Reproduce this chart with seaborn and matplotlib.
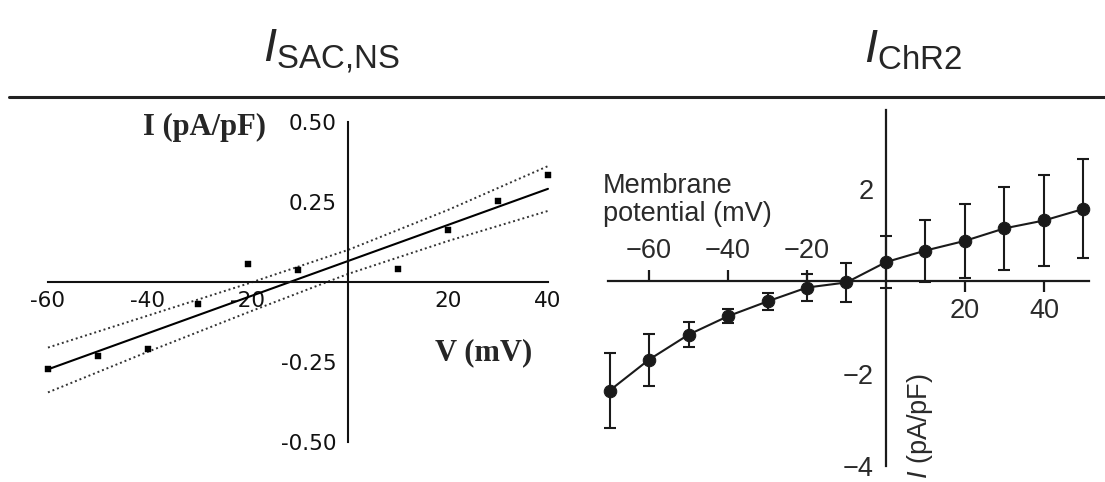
import numpy as np
import pandas as pd
import seaborn as sns
import matplotlib.pyplot as plt
from matplotlib.lines import Line2D

# --- data: left panel (I_SAC,NS) ---
sac_v = [-60, -50, -40, -30, -20, -10, 10, 20, 30, 40]
sac_i = [-0.272, -0.232, -0.208, -0.070, 0.057, 0.036, 0.042, 0.161, 0.252, 0.335]
fit_v = [-60, 40]
fit_i = [-0.273, 0.291]
band_v = [-60, -40, -20, 0, 20, 40]
band_hi = [-0.205, -0.105, -0.005, 0.100, 0.225, 0.362]
band_lo = [-0.345, -0.218, -0.095, 0.025, 0.128, 0.222]
sac_xticks = [-60, -40, -20, 20, 40]
sac_xlabels = ['-60', '-40', '-20', '20', '40']
sac_yticks = [0.50, 0.25, -0.25, -0.50]
sac_ylabels = ['0.50', '0.25', '-0.25', '-0.50']

# --- data: right panel (I_ChR2) ---
chr_v = [-70, -60, -50, -40, -30, -20, -10, 0, 10, 20, 30, 40, 50]
chr_i = [-2.37, -1.70, -1.16, -0.76, -0.44, -0.14, -0.03, 0.41, 0.66, 0.87, 1.14, 1.31, 1.56]
chr_err = [0.81, 0.56, 0.27, 0.15, 0.18, 0.30, 0.43, 0.56, 0.67, 0.80, 0.90, 0.98, 1.07]
chr_xticks = [-60, -40, -20, 20, 40]
chr_xlabels = ['\u221260', '\u221240', '\u221220', '20', '40']
chr_yticks = [2, -2, -4]
chr_ylabels = ['2', '\u22122', '\u22124']

sns.set_style('white')
plt.rcParams['font.family'] = ['Liberation Sans', 'DejaVu Sans']
plt.rcParams['mathtext.fontset'] = 'custom'
plt.rcParams['mathtext.rm'] = 'Liberation Sans'
plt.rcParams['mathtext.it'] = 'Liberation Sans:italic'
plt.rcParams['mathtext.bf'] = 'Liberation Sans:bold'

fig = plt.figure(figsize=(11.05, 4.82), dpi=100)

# titles + rule
fig.text(0.300, 0.871, r'$\mathit{I}_{\mathrm{SAC{,}NS}}$', fontsize=34, ha='center', va='baseline')
fig.text(0.826, 0.871, r'$\mathit{I}_{\mathrm{ChR2}}$', fontsize=34, ha='center', va='baseline')
fig.add_artist(Line2D([0.008, 1.0], [0.799, 0.799], color='#222222', lw=2.2))

# ---------------- left panel ----------------
ax1 = fig.add_axes([0.0434, 0.083, 0.4525, 0.664])
df_sac = pd.DataFrame({'V': sac_v, 'I': sac_i})
df_fit = pd.DataFrame({'V': fit_v, 'I': fit_i})
df_band = pd.DataFrame({'V': band_v, 'hi': band_hi, 'lo': band_lo})

sns.lineplot(data=df_band, x='V', y='hi', ax=ax1, color='#333333', lw=1.4,
             linestyle=(0, (1, 1.5)), estimator=None, clip_on=False)
sns.lineplot(data=df_band, x='V', y='lo', ax=ax1, color='#333333', lw=1.4,
             linestyle=(0, (1, 1.5)), estimator=None, clip_on=False)
sns.lineplot(data=df_fit, x='V', y='I', ax=ax1, color='black', lw=1.5,
             estimator=None, clip_on=False)
sns.scatterplot(data=df_sac, x='V', y='I', ax=ax1, marker='s', s=14,
                color='black', edgecolor='black', clip_on=False, zorder=4)

ax1.set_xlim(-60, 40)
ax1.set_ylim(-0.5, 0.5)
for side in ['top', 'right']:
    ax1.spines[side].set_visible(False)
ax1.spines['left'].set_position(('data', 0))
ax1.spines['bottom'].set_position(('data', 0))
for side in ['left', 'bottom']:
    ax1.spines[side].set_linewidth(1.5)
    ax1.spines[side].set_color('#111111')
ax1.set_xticks(sac_xticks, sac_xlabels)
ax1.set_yticks(sac_yticks, sac_ylabels)
ax1.tick_params(axis='both', direction='out', length=3, width=1.2, labelsize=15.5, color='#111111')
ax1.tick_params(axis='y', pad=5)
for lab in ax1.get_xticklabels() + ax1.get_yticklabels():
    lab.set_family('DejaVu Sans')
    lab.set_color('#111111')
ax1.set_xlabel('')
ax1.set_ylabel('')
fig.text(266 / 1105, 1 - 127 / 482, 'I (pA/pF)', family='Liberation Serif', weight='bold',
         fontsize=22, ha='right', va='center')
fig.text(532 / 1105, 1 - 353 / 482, 'V (mV)', family='Liberation Serif', weight='bold',
         fontsize=22, ha='right', va='center')

# ---------------- right panel ----------------
ax2 = fig.add_axes([0.5498, 0.0332, 0.4361, 0.7386])
df_chr = pd.DataFrame({'V': chr_v, 'I': chr_i, 'err': chr_err})
ax2.errorbar(df_chr['V'], df_chr['I'], yerr=df_chr['err'], fmt='none', ecolor='#1a1a1a',
             elinewidth=1.5, capsize=4.5, capthick=1.5, clip_on=False, zorder=3)
sns.lineplot(data=df_chr, x='V', y='I', ax=ax2, color='#1a1a1a', lw=1.5, marker='o',
             markersize=9, markeredgecolor='#1a1a1a', estimator=None, clip_on=False, zorder=4)

ax2.set_xlim(-70.5, 51.5)
ax2.set_ylim(-4, 3.70)
ax2.spines['right'].set_visible(False)
ax2.spines['top'].set_visible(False)
ax2.spines['left'].set_position(('data', 0))
ax2.spines['bottom'].set_position(('data', 0))
ax2.spines['top'].set_position(('data', 0))
for side in ['left', 'bottom']:
    ax2.spines[side].set_linewidth(1.6)
    ax2.spines[side].set_color('#1a1a1a')
ax2.set_xticks(chr_xticks, chr_xlabels)
ax2.set_yticks(chr_yticks, chr_ylabels)
ax2.tick_params(axis='x', direction='out', length=8, width=1.6, labelsize=19.5,
                top=True, labeltop=True, bottom=True, labelbottom=True, pad=4, color='#1a1a1a')
ax2.tick_params(axis='y', direction='out', length=7, width=1.6, labelsize=19.5, pad=2, color='#1a1a1a')
for t, v in zip(ax2.xaxis.get_major_ticks(), chr_xticks):
    neg = v < 0
    t.tick1line.set_visible(not neg)
    t.label1.set_visible(not neg)
    t.tick2line.set_visible(neg)
    t.label2.set_visible(neg)
for lab in ax2.get_xticklabels() + ax2.get_yticklabels():
    lab.set_color('#2a2a2a')
ax2.set_xlabel('')
ax2.set_ylabel('')
fig.text(603 / 1105, 1 - 173 / 482, 'Membrane\npotential (mV)', fontsize=19.5,
         ha='left', va='top', color='#2a2a2a', linespacing=1.1)
fig.text(920 / 1105, 1 - 426 / 482, r'$\mathit{I}$ (pA/pF)', fontsize=19.5, rotation=90,
         ha='center', va='center', color='#2a2a2a')

fig.savefig('out.png', dpi=100, facecolor='white')
